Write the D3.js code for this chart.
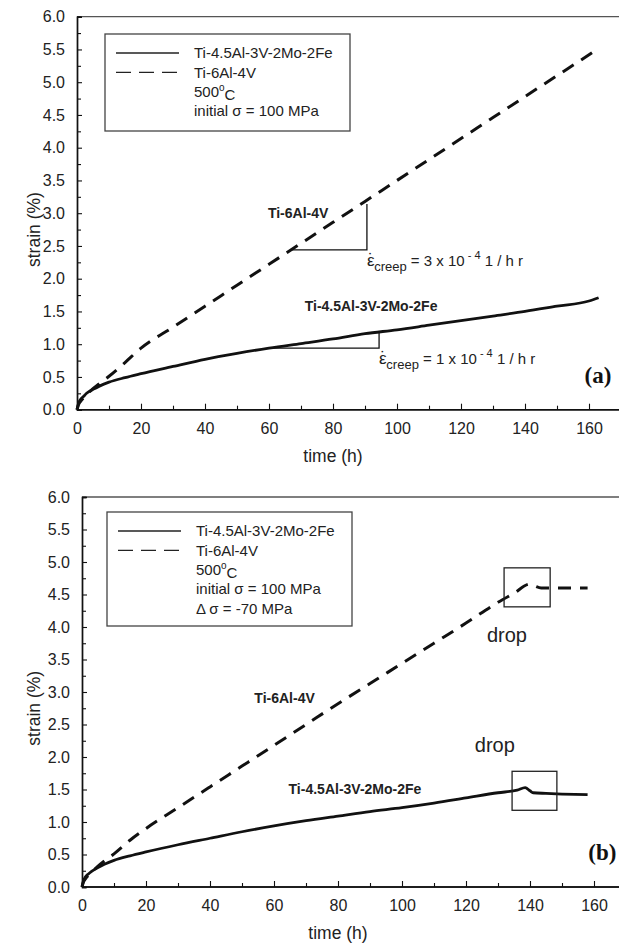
<!DOCTYPE html>
<html><head><meta charset="utf-8">
<script src="https://cdn.jsdelivr.net/npm/d3@7"></script>
<style>body{margin:0;background:#fff}svg{display:block}</style>
</head><body><svg id="c" width="619" height="943"></svg>
<script>
// ---------- data ----------
const timeTicks = [0, 20, 40, 60, 80, 100, 120, 140, 160];
const timeMinorTicks = [10, 30, 50, 70, 90, 110, 130, 150, 170];
const strainTicks = [0, 0.5, 1, 1.5, 2, 2.5, 3, 3.5, 4, 4.5, 5, 5.5, 6];
const strainMinorTicks = [0.25, 0.75, 1.25, 1.75, 2.25, 2.75, 3.25, 3.75, 4.25, 4.75, 5.25, 5.75];
const seriesNames = ["Ti-4.5Al-3V-2Mo-2Fe", "Ti-6Al-4V"];

// panel (a)
const aTimeTi45 = [0, 0.5, 1, 2, 3, 5, 7, 10, 15, 20, 30, 40, 50, 60, 70, 80, 90, 100, 110, 120, 130, 140, 150, 160, 163];
const aStrainTi45 = [0, 0.1, 0.15, 0.2, 0.25, 0.31, 0.36, 0.42, 0.49, 0.55, 0.66, 0.77, 0.86, 0.94, 1.01, 1.08, 1.16, 1.22, 1.29, 1.36, 1.43, 1.5, 1.58, 1.66, 1.71];
const aTimeTi64 = [0, 0.5, 1, 2, 3, 5, 7, 10, 15, 20, 30, 40, 50, 60, 70, 80, 90, 100, 110, 120, 130, 140, 150, 160, 163];
const aStrainTi64 = [0, 0.08, 0.12, 0.18, 0.23, 0.32, 0.4, 0.51, 0.72, 0.94, 1.26, 1.58, 1.9, 2.22, 2.54, 2.86, 3.18, 3.5, 3.82, 4.14, 4.46, 4.78, 5.1, 5.42, 5.52];

// panel (b)
const bTimeTi45 = [0, 0.5, 1, 2, 3, 5, 7, 10, 15, 20, 30, 40, 50, 60, 70, 80, 90, 100, 110, 120, 130, 136, 138.5, 140, 141, 145, 150, 158];
const bStrainTi45 = [0, 0.1, 0.15, 0.2, 0.24, 0.3, 0.35, 0.41, 0.48, 0.54, 0.65, 0.75, 0.85, 0.94, 1.02, 1.09, 1.16, 1.22, 1.29, 1.37, 1.45, 1.49, 1.53, 1.48, 1.45, 1.44, 1.43, 1.42];
const bTimeTi64 = [0, 0.5, 1, 2, 3, 5, 7, 10, 15, 20, 30, 40, 50, 60, 70, 80, 90, 100, 110, 120, 130, 135, 140, 141.5, 143.5, 150, 158];
const bStrainTi64 = [0, 0.08, 0.12, 0.18, 0.23, 0.32, 0.4, 0.51, 0.72, 0.9, 1.22, 1.54, 1.86, 2.18, 2.5, 2.82, 3.13, 3.44, 3.75, 4.06, 4.38, 4.52, 4.66, 4.63, 4.6, 4.6, 4.6];

// annotations (data coordinates)
const aRateTriangleTi64 = {t0: 67.2, t1: 90.6, s0: 2.44, s1: 3.14, rate: "3"};
const aRateTriangleTi45 = {t0: 61.3, t1: 94.4, s0: 0.94, s1: 1.2, rate: "1"};
const bDropBoxes = [{t0: 131.9, t1: 146.3, s0: 4.31, s1: 4.91}, {t0: 134.4, t1: 148.4, s0: 1.18, s1: 1.78}];

const FONT = "'Liberation Sans', Arial, Helvetica, sans-serif";
const svg = d3.select("#c");

function drawPanel(cfg) {
  const x = d3.scaleLinear().domain([0, 170]).range([cfg.left, cfg.left + 544]);
  const y = d3.scaleLinear().domain([0, 6]).range([cfg.bottom, cfg.top]);
  const g = svg.append("g");

  g.append("line").attr("x1", cfg.left).attr("x2", 619).attr("y1", cfg.top).attr("y2", cfg.top)
    .attr("stroke", "#555").attr("stroke-width", 1.3);

  const yMinor = g.append("g").attr("transform", `translate(${cfg.left},0)`)
    .call(d3.axisLeft(y).tickValues(strainMinorTicks).tickSize(-4).tickFormat(""));
  const yMajor = g.append("g").attr("transform", `translate(${cfg.left},0)`)
    .call(d3.axisLeft(y).tickValues(strainTicks).tickSize(-5).tickPadding(12).tickFormat(d3.format(".1f")));
  const xMinor = g.append("g").attr("transform", `translate(0,${cfg.bottom})`)
    .call(d3.axisBottom(x).tickValues(timeMinorTicks).tickSize(-4).tickFormat(""));
  const xMajor = g.append("g").attr("transform", `translate(0,${cfg.bottom})`)
    .call(d3.axisBottom(x).tickValues(timeTicks).tickSize(-6).tickPadding(13).tickFormat(d3.format("d")));
  [yMinor, yMajor, xMinor, xMajor].forEach(a => {
    a.selectAll("path.domain").attr("stroke", "#111").attr("stroke-width", 1.4);
    a.selectAll(".tick line").attr("stroke", "#111").attr("stroke-width", 1.1);
    a.selectAll("text").attr("font-family", FONT).attr("font-size", 16).attr("fill", "#222");
  });
  xMinor.select("path.domain").attr("d", `M${cfg.left},0H619`);
  xMajor.select("path.domain").attr("d", `M${cfg.left},0H619`);

  g.append("text").attr("x", cfg.left + 256).attr("y", cfg.bottom + 52).attr("text-anchor", "middle")
    .attr("font-family", FONT).attr("font-size", 17.5).attr("fill", "#222").text("time (h)");
  g.append("text").attr("transform", `translate(40,${y(2.75)}) rotate(-90)`).attr("text-anchor", "middle")
    .attr("font-family", FONT).attr("font-size", 17.5).attr("fill", "#222").text("strain (%)");

  const line = d3.line().x(d => x(d[0])).y(d => y(d[1])).curve(d3.curveMonotoneX);
  g.append("path").datum(d3.zip(cfg.tTi45, cfg.sTi45)).attr("d", line)
    .attr("fill", "none").attr("stroke", "#111").attr("stroke-width", 2.8);
  g.append("path").datum(d3.zip(cfg.tTi64, cfg.sTi64)).attr("d", line)
    .attr("fill", "none").attr("stroke", "#111").attr("stroke-width", 3).attr("stroke-dasharray", "13,9");

  const L = cfg.legend;
  g.append("rect").attr("x", L.x).attr("y", L.y).attr("width", L.w).attr("height", L.h)
    .attr("fill", "#fff").attr("stroke", "#444").attr("stroke-width", 1.3);
  const rowY = i => L.y + 19 + i * 19.3;
  g.append("line").attr("x1", L.x + 11).attr("x2", L.x + 74).attr("y1", rowY(0)).attr("y2", rowY(0))
    .attr("stroke", "#222").attr("stroke-width", 1.3);
  g.append("line").attr("x1", L.x + 11).attr("x2", L.x + 74).attr("y1", rowY(1)).attr("y2", rowY(1))
    .attr("stroke", "#222").attr("stroke-width", 1.3).attr("stroke-dasharray", "15,8");
  const ltxt = (i) => g.append("text").attr("x", L.x + 89).attr("y", rowY(i)).attr("dy", "0.36em")
    .attr("font-family", FONT).attr("font-size", 15).attr("fill", "#222");
  ltxt(0).text(seriesNames[0]);
  ltxt(1).text(seriesNames[1]);
  const t500 = ltxt(2);
  t500.append("tspan").text("500");
  t500.append("tspan").attr("font-size", 10).attr("dy", "-0.6em").text("o");
  t500.append("tspan").attr("dy", "0.6em").text("C");
  ltxt(3).text("initial σ = 100 MPa");
  if (cfg.deltaNote) ltxt(4).text(cfg.deltaNote);

  g.append("text").attr("x", x(167)).attr("y", cfg.bottom - 27).attr("text-anchor", "end")
    .attr("font-family", "'Liberation Serif', 'Times New Roman', serif").attr("font-weight", "bold")
    .attr("font-size", 23).attr("fill", "#111").text(cfg.label);

  cfg.curveLabels.forEach(c => {
    g.append("text").attr("x", x(c.t)).attr("y", y(c.s)).attr("dy", "0.35em").attr("text-anchor", "middle")
      .attr("font-family", FONT).attr("font-weight", "bold").attr("font-size", 14).attr("fill", "#222").text(c.text);
  });
  return {g, x, y};
}

// ---------- panel (a) ----------
const A = drawPanel({
  left: 77, top: 16.7, bottom: 409.7, label: "(a)",
  tTi45: aTimeTi45, sTi45: aStrainTi45, tTi64: aTimeTi64, sTi64: aStrainTi64,
  legend: {x: 105, y: 34, w: 245, h: 97},
  curveLabels: [{text: "Ti-6Al-4V", t: 69.1, s: 3.0}, {text: "Ti-4.5Al-3V-2Mo-2Fe", t: 91.9, s: 1.58}]
});
[aRateTriangleTi64, aRateTriangleTi45].forEach(tr => {
  const {g, x, y} = A;
  g.append("path")
    .attr("d", `M${x(tr.t0)},${y(tr.s0)}H${x(tr.t1)}V${y(tr.s1)}`)
    .attr("fill", "none").attr("stroke", "#111").attr("stroke-width", 1.3);
  const tx = g.append("text").attr("x", x(tr.t1)).attr("y", y(tr.s0) + 16)
    .attr("font-family", FONT).attr("font-size", 15).attr("fill", "#222");
  tx.append("tspan").attr("font-size", 17).text("\u03B5");
  tx.append("tspan").attr("font-size", 17).attr("dx", -6.5).attr("dy", -1).text("\u02D9");
  tx.append("tspan").attr("font-size", 13).attr("dx", 0.5).attr("dy", 6).text("creep");
  tx.append("tspan").attr("dy", -5).text(" = " + tr.rate + " x 10");
  tx.append("tspan").attr("font-size", 11).attr("dy", -7).text(" - 4");
  tx.append("tspan").attr("dy", 7).text(" 1 / h r");
});

// ---------- panel (b) ----------
const B = drawPanel({
  left: 82, top: 497, bottom: 887, label: "(b)",
  tTi45: bTimeTi45, sTi45: bStrainTi45, tTi64: bTimeTi64, sTi64: bStrainTi64,
  legend: {x: 107, y: 512, w: 245, h: 114},
  deltaNote: "\u0394 σ = -70 MPa",
  curveLabels: [{text: "Ti-6Al-4V", t: 63.3, s: 2.91}, {text: "Ti-4.5Al-3V-2Mo-2Fe", t: 85.3, s: 1.51}]
});
bDropBoxes.forEach(b => {
  const {g, x, y} = B;
  g.append("rect").attr("x", x(b.t0)).attr("y", y(b.s1)).attr("width", x(b.t1) - x(b.t0)).attr("height", y(b.s0) - y(b.s1))
    .attr("fill", "none").attr("stroke", "#222").attr("stroke-width", 1.3);
});
[{t: 132.8, s: 3.88}, {t: 129, s: 2.18}].forEach(d => {
  B.g.append("text").attr("x", B.x(d.t)).attr("y", B.y(d.s)).attr("dy", "0.35em").attr("text-anchor", "middle")
    .attr("font-family", FONT).attr("font-size", 20).attr("fill", "#222").text("drop");
});
</script></body></html>
